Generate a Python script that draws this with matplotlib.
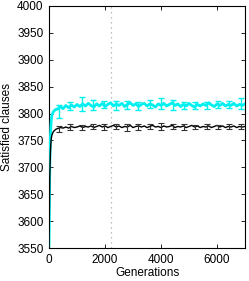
import matplotlib
matplotlib.use("Agg")
import matplotlib.pyplot as plt
import numpy as np

plt.rcParams['font.family'] = ['Liberation Sans', 'DejaVu Sans']

# Curve samples (generations)
gens_early = [0, 25, 50, 75, 100, 150, 200, 250]
cyan_early = [3555, 3700, 3760, 3785, 3797, 3803, 3806, 3808]
black_early = [3550, 3680, 3730, 3752, 3760, 3766, 3769, 3771]

gens_late = list(range(300, 7001, 100))  # 68 points
cyan_late = [3808, 3813, 3809, 3815, 3811, 3816, 3812, 3817, 3813, 3818,
             3814, 3819, 3815, 3812, 3818, 3814, 3819, 3813, 3817, 3820,
             3814, 3818, 3815, 3819, 3813, 3817, 3820, 3815, 3818, 3813,
             3817, 3819, 3814, 3818, 3816, 3812, 3818, 3815, 3819, 3814,
             3817, 3820, 3815, 3818, 3813, 3817, 3814, 3819, 3815, 3812,
             3817, 3814, 3818, 3815, 3820, 3816, 3813, 3818, 3815, 3819,
             3814, 3817, 3815, 3819, 3814, 3817, 3815, 3818]
black_late = [3772, 3774, 3773, 3775, 3773, 3776, 3774, 3775, 3777, 3774,
              3776, 3775, 3777, 3774, 3776, 3778, 3775, 3777, 3774, 3776,
              3778, 3775, 3777, 3774, 3776, 3775, 3778, 3774, 3776, 3777,
              3775, 3777, 3774, 3776, 3778, 3775, 3776, 3774, 3777, 3775,
              3776, 3778, 3774, 3776, 3775, 3777, 3774, 3776, 3778, 3775,
              3777, 3774, 3776, 3775, 3777, 3774, 3776, 3778, 3775, 3777,
              3774, 3776, 3775, 3777, 3774, 3776, 3775, 3776]

# Error bar samples
err_gens = [350, 756, 1162, 1568, 1974, 2380, 2786, 3192, 3598, 4004,
            4410, 4816, 5222, 5628, 6034, 6440, 6846]
cyan_err_mean = [3804, 3814, 3817, 3816, 3817, 3815, 3816, 3814, 3818, 3818,
                 3816, 3815, 3815, 3815, 3817, 3817, 3818]
cyan_err = [12, 8, 13, 9, 7, 9, 7, 8, 8, 10, 9, 7, 6, 6, 7, 7, 10]
black_err_mean = [3771, 3775, 3774, 3776, 3775, 3776, 3774, 3775, 3776, 3776,
                  3776, 3775, 3775, 3776, 3775, 3776, 3776]
black_err = [6, 5, 5, 4, 6, 5, 6, 5, 5, 6, 5, 5, 4, 4, 4, 5, 4]

vline_gen = 2200

fig = plt.figure(figsize=(2.49, 2.81), dpi=100)
ax = fig.add_axes([0.197, 0.117, 0.787, 0.862])

cyan = '#00F0F0'
gx = gens_early + gens_late
ax.plot(gx, cyan_early + cyan_late, color=cyan, lw=2.0, zorder=3)
ax.errorbar(err_gens, cyan_err_mean, yerr=cyan_err, fmt='none', ecolor=cyan,
            elinewidth=1.0, capsize=2, capthick=1.0, zorder=3)
ax.plot(gx, black_early + black_late, color='black', lw=1.0, zorder=4)
ax.errorbar(err_gens, black_err_mean, yerr=black_err, fmt='none', ecolor='#333333',
            elinewidth=0.8, capsize=2, capthick=0.8, zorder=4)

ax.axvline(vline_gen, color='#aaaaaa', ls=(0, (1, 3)), lw=0.9, zorder=1)

ax.set_xlim(0, 7000)
ax.set_ylim(3550, 4000)
ax.set_xticks([0, 2000, 4000, 6000])
ax.set_yticks(np.arange(3550, 4001, 50))
ax.tick_params(direction='in', length=3, width=0.6, labelsize=8.5,
               top=True, right=True, pad=4)
for s in ax.spines.values():
    s.set_linewidth(0.8)
ax.set_xlabel('Generations', fontsize=8.5, labelpad=1)
ax.set_ylabel('Satisfied clauses', fontsize=8.5, labelpad=3)

fig.savefig('out.png', dpi=100)
